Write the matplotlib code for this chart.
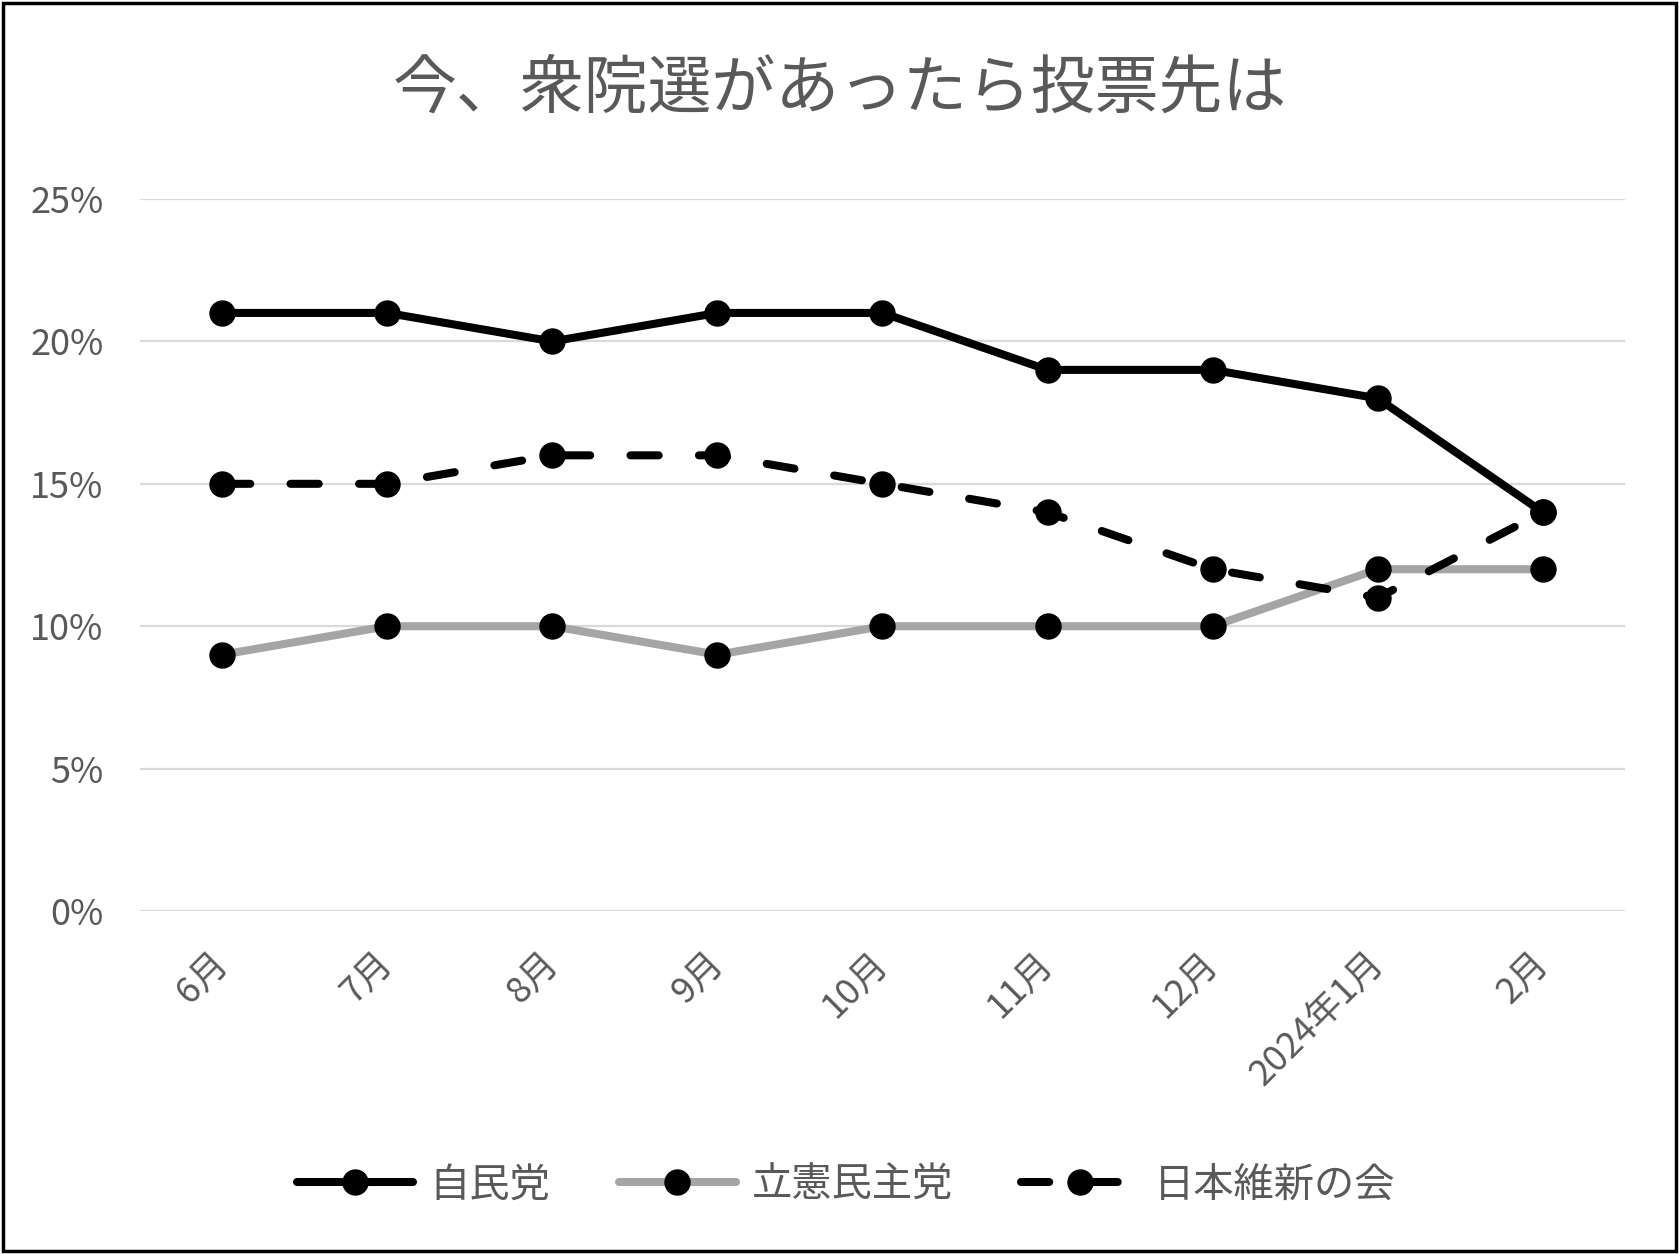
import matplotlib
matplotlib.use("Agg")
import matplotlib.pyplot as plt
from matplotlib.patches import Rectangle
from matplotlib.ticker import FuncFormatter, MultipleLocator

plt.rcParams["font.family"] = ["Noto Sans CJK JP", "DejaVu Sans"]

title = "今、衆院選があったら投票先は"
months = ["6月", "7月", "8月", "9月", "10月", "11月", "12月", "2024年1月", "2月"]
ldp = [21, 21, 20, 21, 21, 19, 19, 18, 14]
cdp = [9, 10, 10, 9, 10, 10, 10, 12, 12]
ishin = [15, 15, 16, 16, 15, 14, 12, 11, 14]
names = ["自民党", "立憲民主党", "日本維新の会"]

text_color = "#595959"
grid_color = "#D9D9D9"

fig = plt.figure(figsize=(16.79, 12.54), dpi=100)
ax = fig.add_axes([0.0831, 0.2735, 0.885, 0.5678])

x = range(len(months))
common = dict(marker="o", markersize=18, markerfacecolor="black",
              markeredgecolor="black", linewidth=5.8,
              solid_capstyle="round", dash_capstyle="round")

# series order as in the source: later ones drawn on top
ax.plot(x, ldp, color="black", label=names[0], zorder=3, **common)
ax.plot(x, cdp, color="#A5A5A5", label=names[1], zorder=4, **common)
ax.plot(x, ishin, color="black", linestyle=(0, (3.5, 5)), label=names[2],
        zorder=5, **common)

ax.set_xlim(-0.5, len(months) - 0.5)
ax.set_ylim(0, 25)
ax.yaxis.set_major_locator(MultipleLocator(5))
ax.yaxis.set_major_formatter(FuncFormatter(lambda v, p: f"{v:.0f}%"))
ax.grid(axis="y", color=grid_color, linewidth=1.6)
ax.set_axisbelow(True)
for s in ax.spines.values():
    s.set_visible(False)

ax.set_xticks(list(x))
ax.set_xticklabels(months, rotation=45, ha="right", va="center",
                   rotation_mode="anchor")
ax.tick_params(axis="x", length=0, pad=34, labelsize=26, labelcolor=text_color)
ax.tick_params(axis="y", length=0, pad=26, labelsize=26, labelcolor=text_color)

fig.text(0.5, 0.929, title, ha="center", va="center", fontsize=46,
         color=text_color)

leg = fig.legend(loc="center", bbox_to_anchor=(0.504, 0.055), ncol=3,
                 frameon=False, fontsize=29, handlelength=2.9,
                 handletextpad=0.4, columnspacing=1.7)
for t in leg.get_texts():
    t.set_color(text_color)

fig.patches.append(Rectangle((0.0015, 0.002), 0.997, 0.996,
                             transform=fig.transFigure, fill=False,
                             edgecolor="black", linewidth=2.5))

fig.savefig("out.png", dpi=100, facecolor="white")
